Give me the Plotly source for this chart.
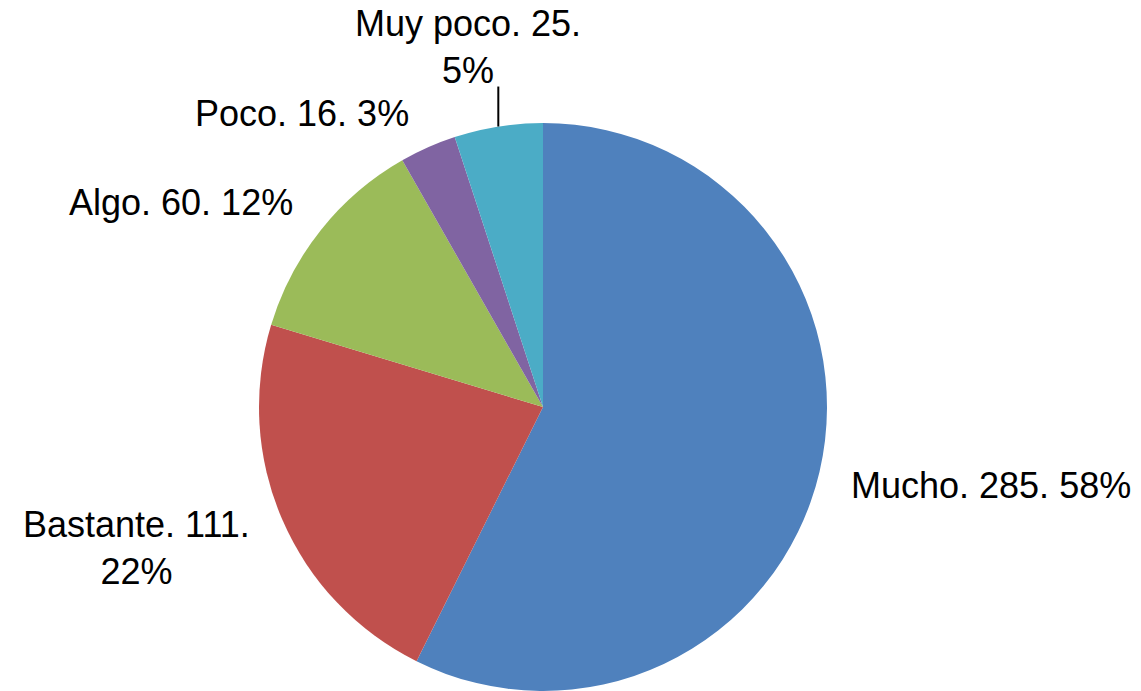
import math
import plotly.graph_objects as go

# Survey answers
categories = ["Mucho", "Bastante", "Algo", "Poco", "Muy poco"]
counts = [285, 111, 60, 16, 25]
percent_labels = ["58%", "22%", "12%", "3%", "5%"]
label_texts = [
    "Mucho. 285. 58%",
    "Bastante. 111.<br>22%",
    "Algo. 60. 12%",
    "Poco. 16. 3%",
    "Muy poco. 25.<br>5%",
]
colors = ["#4F81BD", "#C0504D", "#9BBB59", "#8064A2", "#4BACC6"]

W, H = 1141, 691
CX, CY, R = 543, 407, 284  # pie centre and radius in pixels
FONT = "Liberation Sans, Arial, sans-serif"


def px(x):
    return x / W


def py(y):
    return 1 - y / H


fig = go.Figure(
    go.Pie(
        labels=categories,
        values=counts,
        sort=False,
        direction="clockwise",
        rotation=0,
        marker=dict(colors=colors, line=dict(width=0)),
        textinfo="none",
        hoverinfo="label+value+percent",
        showlegend=False,
        domain=dict(x=[px(CX - R), px(CX + R)], y=[py(CY + R), py(CY - R)]),
    )
)

# Place each label outside its slice, along the slice's mid-angle
total = sum(counts)
cum = 0
shapes = []
annotations = []
for name, val, txt in zip(categories, counts, label_texts):
    mid = (cum + val / 2) / total * 2 * math.pi
    cum += val
    dx, dy = math.sin(mid), -math.cos(mid)
    if abs(dx) < 0.3 and dy < 0:
        # near the top: short vertical leader line with label above
        ex, ey = CX + R * dx, CY + R * dy
        top = ey - 40
        shapes.append(dict(type="line", xref="paper", yref="paper",
                           x0=px(ex), x1=px(ex), y0=py(ey), y1=py(top),
                           line=dict(color="black", width=2)))
        annotations.append(dict(x=px(ex - 30), y=py(top + 6), xref="paper", yref="paper",
                                text=txt, showarrow=False, xanchor="center",
                                yanchor="bottom", align="center"))
    else:
        k = 1.085
        lx, ly = CX + R * k * dx, CY + R * k * dy
        if dx > 0:
            lx += 6
            ly += 8
        elif dy > 0.3:
            lx -= 8
            ly += 19
        else:
            lx -= 7
            ly -= 12
        annotations.append(dict(x=px(lx), y=py(ly), xref="paper", yref="paper",
                                text=txt, showarrow=False,
                                xanchor="left" if dx > 0 else "right",
                                yanchor="middle", align="center"))

fig.update_layout(
    width=W,
    height=H,
    margin=dict(l=0, r=0, t=0, b=0),
    paper_bgcolor="white",
    plot_bgcolor="white",
    font=dict(family=FONT, size=36, color="black"),
    shapes=shapes,
    annotations=annotations,
)

fig.write_html("out.html")
